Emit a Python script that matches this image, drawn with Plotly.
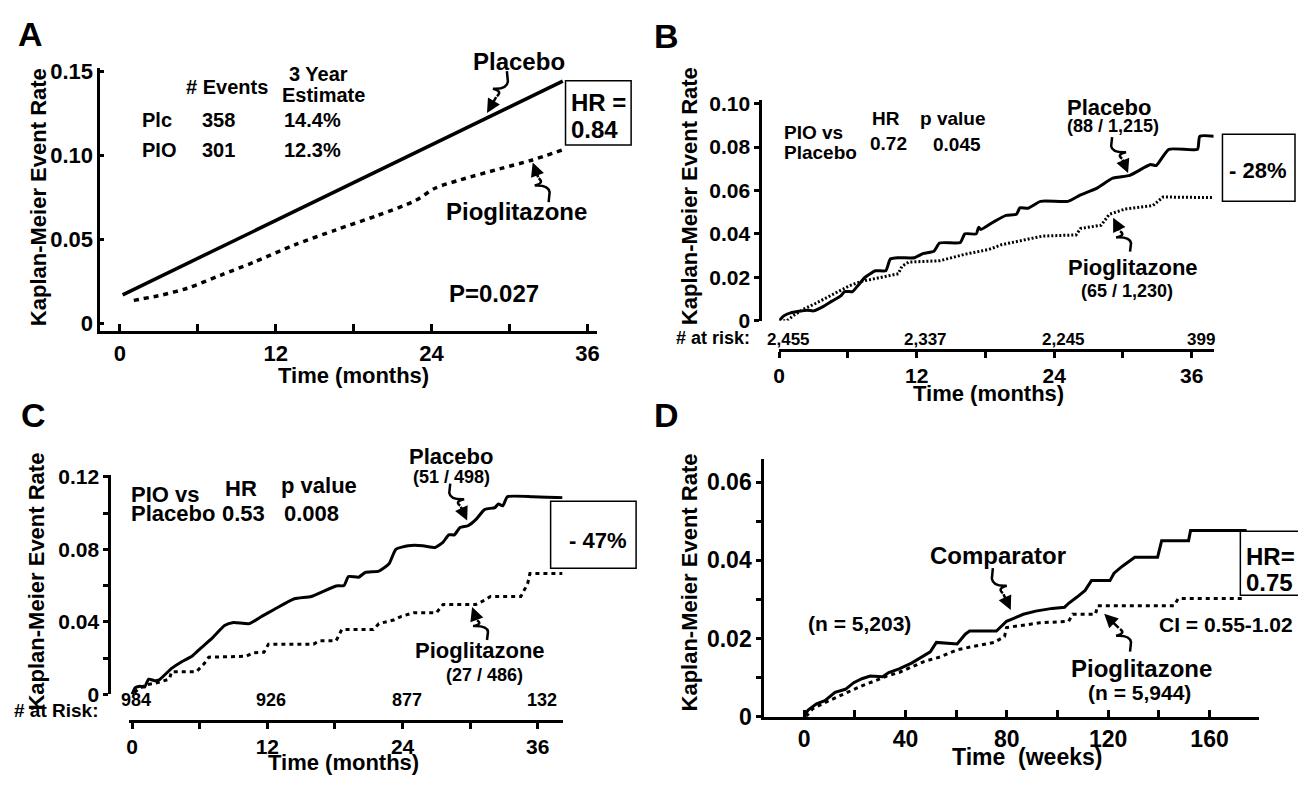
import plotly.graph_objects as go

W, H = 1298, 785
FONT = "Liberation Sans, Arial, sans-serif"

# ---------------- data ----------------
# Panel A (months, event rate)
a_plc_t = [0.22, 34.1]
a_plc_v = [0.0171, 0.1441]
a_pio_t = [1.08, 3.3, 5.2, 7.75, 10.3, 13.5, 16.6, 19.8, 22.7, 24.3, 26.2, 29.3, 31.6, 34.1]
a_pio_v = [0.0138, 0.0171, 0.0210, 0.0287, 0.0364, 0.0469, 0.0556, 0.0642, 0.0729, 0.0806,
           0.0854, 0.0921, 0.0969, 0.1033]

# Panel B
b_plc_t = [0, 0.4, 1.0, 2.45, 3.0, 3.9, 4.6, 5.4, 5.7, 6.4, 6.8, 7.5, 8.4, 9.3, 9.7, 10.4, 11.8,
           12.6, 13.5, 14.0, 15.8, 16.2, 17.2, 17.4, 17.6, 18.7, 19.8, 20.7, 21.0, 21.7, 22.8,
           25.2, 26.3, 27.7, 29.1, 30.6, 32.4, 32.9, 34.0, 36.5, 36.7, 38.0]
b_plc_v = [0, 0.0022, 0.0036, 0.0048, 0.0045, 0.0067, 0.009, 0.0115, 0.0134, 0.0134, 0.0157,
           0.020, 0.023, 0.023, 0.0284, 0.029, 0.029, 0.031, 0.032, 0.0358, 0.036, 0.040, 0.040,
           0.0430, 0.042, 0.0455, 0.0485, 0.049, 0.052, 0.0518, 0.055, 0.055, 0.058, 0.061,
           0.0657, 0.067, 0.072, 0.0715, 0.079, 0.079, 0.085, 0.085]
b_pio_t = [0, 0.7, 1.2, 2.1, 3.2, 4.3, 5.3, 6.1, 7.1, 8.9, 10.4, 10.7, 11.3, 14.0, 16.2, 18.3,
           19.4, 21.2, 23.0, 25.9, 26.3, 28.1, 28.8, 30.2, 32.6, 33.5, 38.0]
b_pio_v = [0, 0.0, 0.0022, 0.0052, 0.008, 0.011, 0.014, 0.016, 0.018, 0.020, 0.0216, 0.025,
           0.027, 0.0276, 0.0306, 0.0328, 0.035, 0.037, 0.039, 0.0395, 0.0425, 0.044, 0.049,
           0.0515, 0.053, 0.057, 0.0567]
b_risk_t = [0, 12, 24, 36]
b_risk_n = ["2,455", "2,337", "2,245", "399"]

# Panel C
c_plc_t = [0, 0.26, 0.7, 1.1, 1.46, 2.0, 2.4, 3.5, 4.4, 5.3, 6.0, 7.1, 8.2, 9.0, 10.4, 11.5,
           12.6, 14.4, 15.9, 18.1, 18.8, 19.2, 20.1, 20.7, 21.9, 22.8, 23.4, 24.5, 25.8, 26.9,
           27.6, 28.1, 28.6, 29.1, 29.8, 30.5, 31.3, 32.2, 32.5, 32.9, 33.3, 35.6, 38.2]
c_plc_v = [0, 0.0036, 0.0045, 0.0040, 0.0084, 0.0075, 0.008, 0.0143, 0.018, 0.021, 0.025,
           0.031, 0.038, 0.0396, 0.039, 0.043, 0.0468, 0.0527, 0.054, 0.0598, 0.060, 0.065,
           0.0646, 0.0673, 0.068, 0.072, 0.080, 0.082, 0.082, 0.081, 0.084, 0.088, 0.088,
           0.092, 0.093, 0.0964, 0.102, 0.103, 0.105, 0.104, 0.109, 0.109, 0.1085]
c_pio_t = [0.2, 0.7, 1.3, 2.0, 3.3, 3.5, 5.7, 6.4, 6.8, 10.1, 10.8, 11.7, 12.1, 16.1, 16.6,
           18.1, 18.6, 21.4, 21.9, 23.2, 23.9, 25.0, 27.0, 27.6, 30.5, 31.3, 31.8, 34.5, 35.1,
           35.3, 38.2]
c_pio_v = [0.001, 0.0036, 0.0054, 0.006, 0.0084, 0.0125, 0.0125, 0.017, 0.0205, 0.021, 0.023,
           0.0232, 0.0277, 0.0277, 0.0295, 0.0295, 0.0357, 0.0357, 0.039, 0.041, 0.043, 0.045,
           0.045, 0.0496, 0.0496, 0.052, 0.054, 0.054, 0.061, 0.0666, 0.0666]
c_risk_t = [0, 12, 24, 36]
c_risk_n = ["984", "926", "877", "132"]

# Panel D (weeks)
d_cmp_t = [0, 1.6, 4.9, 8.2, 12.2, 16.3, 19.6, 22.8, 26.1, 31.0, 33.4, 37.5, 42.4, 46.5, 49.8,
           52.2, 60.4, 63.6, 65.3, 75.9, 79.9, 83.2, 86.5, 91.4, 97.9, 102.8, 104.4, 107.7,
           110.9, 113.4, 120.7, 122.3, 125.6, 130.5, 139.5, 141.1, 151.7, 152.5, 174.6]
d_cmp_v = [0, 0.0017, 0.0033, 0.0041, 0.0062, 0.007, 0.0087, 0.0097, 0.0104, 0.0102, 0.0113,
           0.0122, 0.0137, 0.0153, 0.0166, 0.019, 0.0186, 0.0211, 0.0219, 0.0219, 0.0244,
           0.0253, 0.0262, 0.027, 0.0277, 0.028, 0.029, 0.0306, 0.0323, 0.0348, 0.0348,
           0.0367, 0.0385, 0.0408, 0.0408, 0.045, 0.045, 0.0476, 0.0476]
d_pio_t = [0.8, 3.3, 8.2, 13.0, 17.9, 22.8, 27.7, 32.6, 37.5, 42.4, 47.3, 53.8, 60.4, 66.9, 75.0,
           79.1, 79.9, 86.5, 93.0, 104.4, 106.0, 115.0, 115.8, 146.0, 147.6, 173.7]
d_pio_v = [0, 0.002, 0.0036, 0.005, 0.0064, 0.0079, 0.0091, 0.0104, 0.0113, 0.0128, 0.0141,
           0.0153, 0.0171, 0.018, 0.019, 0.0205, 0.0228, 0.0234, 0.024, 0.0244, 0.0262, 0.0262,
           0.0284, 0.0284, 0.0302, 0.0302]

# ---------------- helpers ----------------
def px(x):
    return x / W


def py(y):
    return 1 - y / H


fig = go.Figure()

def line(t, v, xa, ya, dash="solid", width=3, shape="linear", smooth=None):
    ln = dict(color="black", width=width, dash=dash, shape=shape)
    if smooth is not None:
        ln["smoothing"] = smooth
    fig.add_trace(go.Scatter(x=t, y=v, xaxis=xa, yaxis=ya, mode="lines", line=ln,
                             showlegend=False, hoverinfo="skip"))

line(a_plc_t, a_plc_v, "x", "y", width=3.5)
line(a_pio_t, a_pio_v, "x", "y", dash="5px,5px", width=3.5, shape="spline", smooth=0.8)
line(b_plc_t, b_plc_v, "x2", "y2", width=3, shape="spline", smooth=0.5)
line(b_pio_t, b_pio_v, "x2", "y2", dash="2px,2px", width=3)
line(c_plc_t, c_plc_v, "x3", "y3", width=3, shape="spline", smooth=0.5)
line(c_pio_t, c_pio_v, "x3", "y3", dash="4px,4px", width=3)
line(d_cmp_t, d_cmp_v, "x4", "y4", width=3)
line(d_pio_t, d_pio_v, "x4", "y4", dash="4px,4px", width=3)

ann = []

def T(text, x, y, size=20, xanchor="center", yanchor="middle", angle=0):
    ann.append(dict(text=text, x=px(x), y=py(y), xref="paper", yref="paper", showarrow=False,
                    xanchor=xanchor, yanchor=yanchor, textangle=angle,
                    font=dict(family=FONT, size=size, color="black", weight="bold")))

shapes = []

def box(x0, y0, x1, y1):
    shapes.append(dict(type="rect", xref="paper", yref="paper", x0=px(x0), x1=px(x1),
                       y0=py(y1), y1=py(y0), line=dict(color="black", width=1.5)))

def squiggle(x0, y0, x1, y1):
    # S-shaped leader ending in an arrow at (x1, y1)
    dy = y1 - y0
    s = 1 if x0 >= x1 else -1
    p1 = (x0 + s * 1, y0 + 0.25 * dy)
    q1 = (x0, y0 + 0.44 * dy)
    p2 = (x0 - s * 14, y0 + 0.42 * dy)
    q2 = (x0 - s * 4, y0 + 0.48 * dy)
    p3 = (x0 - s * 10, y0 + 0.60 * dy)
    P = lambda p: f"{px(p[0]):.5f},{py(p[1]):.5f}"
    path = f"M{P((x0, y0))} L{P(p1)} Q{P(q1)} {P(p2)} Q{P(q2)} {P(p3)}"
    shapes.append(dict(type="path", xref="paper", yref="paper", path=path,
                       line=dict(color="black", width=2.5)))
    ann.append(dict(x=px(x1), y=py(y1), xref="paper", yref="paper", text="", showarrow=True,
                    ax=p3[0] - x1, ay=p3[1] - y1, arrowhead=2, arrowsize=1.1, arrowwidth=2.5,
                    arrowcolor="black", standoff=0))

# ---- Panel A ----
T("A", 25, 25, 34)
T("Kaplan-Meier Event Rate", 33, 193, 22, angle=-90)
T("Time (months)", 350, 377, 22)
T("# Events", 222, 79, 20)
T("3 Year", 314, 66, 20)
T("Estimate", 319, 88, 20)
for lab, n, est, yy in [("Plc", "358", "14.4%", 113), ("PIO", "301", "12.3%", 144)]:
    T(lab, 135, yy, 20, xanchor="left")
    T(n, 214, yy, 20)
    T(est, 308, yy, 20)
T("Placebo", 516, 53, 24)
T("Pioglitazone", 514, 208, 24)
T("P=0.027", 491, 292, 24)
box(563, 73, 629, 139)
T("HR =", 566, 95, 24, xanchor="left")
T("0.84", 566, 123, 24, xanchor="left")
squiggle(504, 63, 484, 106)
squiggle(546, 198, 530, 157)

# ---- Panel B ----
T("B", 665, 27, 34)
T("Kaplan-Meier Event Rate", 688, 192, 22, angle=-90)
T("Time (months)", 989, 395, 22)
T("# at risk:", 711, 338, 18)
for t, n in zip(b_risk_t, b_risk_n):
    ann.append(dict(text=n, x=t, y=py(339), xref="x2", yref="paper", showarrow=False,
                    xshift=9, font=dict(family=FONT, size=17, color="black", weight="bold")))
T("PIO vs", 781, 126, 19, xanchor="left")
T("Placebo", 781, 147, 19, xanchor="left")
T("HR", 885, 112, 19)
T("0.72", 888, 138, 19)
T("p value", 952, 112, 19)
T("0.045", 957, 139, 19)
T("Placebo", 1110, 100, 22)
T("(88 / 1,215)", 1114, 119, 18)
T("Pioglitazone", 1134, 265, 22)
T("(65 / 1,230)", 1128, 289, 18)
box(1224, 128, 1297, 197)
T("- 28%", 1259, 165, 22)
squiggle(1113, 131, 1129, 168)
squiggle(1131, 249, 1114, 214)

# ---- Panel C ----
T("C", 28, 417, 34)
T("Kaplan-Meier Event Rate", 31, 589, 22, angle=-90)
T("Time (months)", 340, 775, 22)
T("# at Risk:", 50, 722, 19)
for t, n in zip(c_risk_t, c_risk_n):
    ann.append(dict(text=n, x=t, y=py(723), xref="x3", yref="paper", showarrow=False,
                    xshift=4, font=dict(family=FONT, size=18, color="black", weight="bold")))
T("PIO vs", 124, 499, 22, xanchor="left")
T("Placebo", 124, 519, 22, xanchor="left")
T("HR", 236, 493, 22)
T("0.53", 239, 519, 22)
T("p value", 315, 490, 22)
T("0.008", 307, 519, 22)
T("Placebo", 448, 460, 22)
T("(51 / 498)", 448, 481, 18)
T("Pioglitazone", 477, 660, 22)
T("(27 / 486)", 481, 685, 18)
box(548, 506, 634, 575)
T("- 47%", 595, 547, 22)
squiggle(447, 488, 464, 526)
squiggle(484, 649, 469, 615)

# ---- Panel D ----
T("D", 665, 417, 34)
T("Kaplan-Meier Event Rate", 688, 590, 22, angle=-90)
T("Time&nbsp; (weeks)", 1027, 770, 23)
T("Comparator", 998, 562, 24)
T("(n = 5,203)", 859, 632, 21)
T("Pioglitazone", 1143, 678, 24)
T("(n = 5,944)", 1141, 703, 21)
T("CI = 0.55-1.02", 1228, 633, 21)
box(1242, 537, 1310, 603)
T("HR=", 1246, 563, 24, xanchor="left")
T("0.75", 1246, 590, 24, xanchor="left")
squiggle(993, 575, 1011, 618)
squiggle(1131, 661, 1105, 622)

# ---------------- axes ----------------
def axis(domain, rng, tickvals, ticktext, ticks, ticklen, size, **kw):
    d = dict(domain=domain, range=rng, tickvals=tickvals, ticktext=ticktext, ticks=ticks,
             ticklen=ticklen, tickwidth=2.5, tickcolor="black", showline=True, linewidth=3,
             linecolor="black", showgrid=False, zeroline=False, fixedrange=True,
             tickfont=dict(family=FONT, size=size, color="black", weight="bold"))
    d.update(kw)
    return d

fig.update_layout(
    width=W, height=H, autosize=False, margin=dict(l=0, r=0, t=0, b=0),
    paper_bgcolor="white", plot_bgcolor="white",
    font=dict(family=FONT, color="black"),
    annotations=ann, shapes=shapes,
    xaxis=axis([px(95), px(595)], [-1.49, 36.76], [0, 6, 12, 18, 24, 30, 36],
               ["0", "", "12", "", "24", "", "36"], "inside", 7, 22, anchor="y"),
    yaxis=axis([py(331), py(60)], [-0.0046, 0.1518], [0, 0.05, 0.10, 0.15],
               ["0", "0.05", "0.10", "0.15"], "inside", 4, 22, anchor="x"),
    xaxis2=axis([px(778), px(1215)], [0, 37.9], [0, 6, 12, 18, 24, 30, 36],
                ["0", "", "12", "", "24", "", "36"], "outside", 6, 21,
                anchor="free", position=py(350)),
    yaxis2=axis([py(320), py(93)], [0, 0.1016], [0, 0.02, 0.04, 0.06, 0.08, 0.10],
                ["0", "0.02", "0.04", "0.06", "0.08", "0.10"], "outside", 5, 21,
                anchor="free", position=px(759)),
    xaxis3=axis([px(124), px(560)], [-0.26, 38.2], [0, 6, 12, 18, 24, 30, 36],
                ["0", "", "12", "", "24", "", "36"], "outside", 6, 21,
                anchor="free", position=py(732)),
    yaxis3=axis([py(705), py(479)], [0, 0.121], [0, 0.02, 0.04, 0.06, 0.08, 0.10, 0.12],
                ["0", "", "0.04", "", "0.08", "", "0.12"], "outside", 5, 21,
                anchor="free", position=px(104)),
    xaxis4=axis([px(763), px(1261)], [-15.7, 179.6], list(range(0, 181, 20)),
                ["0", "", "40", "", "80", "", "120", "", "160", ""], "inside", 7, 23,
                anchor="y4"),
    yaxis4=axis([py(728), py(463)], [0, 0.0658], [0, 0.01, 0.02, 0.03, 0.04, 0.05, 0.06],
                ["0", "", "0.02", "", "0.04", "", "0.06"], "outside", 5, 23, anchor="x4"),
)

fig.write_html("out.html", config={"displayModeBar": False},
               post_script="document.body.style.margin='0px';"
                           "document.body.style.overflow='hidden';")
